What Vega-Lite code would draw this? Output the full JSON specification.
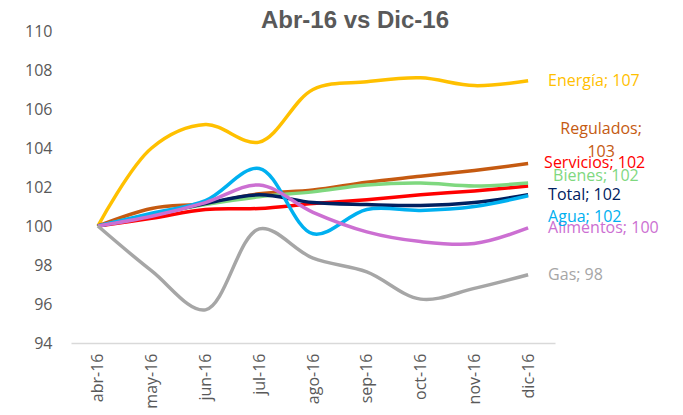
{
  "$schema": "https://vega.github.io/schema/vega-lite/v6.json",
  "width": 484,
  "height": 312,
  "autosize": {"type": "none"},
  "padding": {"left": 71, "top": 31, "right": 128, "bottom": 72},
  "background": "white",
  "config": {"view": {"stroke": null}, "font": "Open Sans"},
  "title": {"text": "Abr-16 vs Dic-16", "anchor": "middle", "frame": "group", "dx": 42, "dy": 12, "fontSize": 24, "fontWeight": "bold", "color": "#595959", "font": "Liberation Sans", "offset": 2},
  "data": {"values": [
    {"month": "abr-16", "series": "Energía", "value": 100},
    {"month": "may-16", "series": "Energía", "value": 104.0},
    {"month": "jun-16", "series": "Energía", "value": 105.2},
    {"month": "jul-16", "series": "Energía", "value": 104.3},
    {"month": "ago-16", "series": "Energía", "value": 107.0},
    {"month": "sep-16", "series": "Energía", "value": 107.4},
    {"month": "oct-16", "series": "Energía", "value": 107.6},
    {"month": "nov-16", "series": "Energía", "value": 107.2},
    {"month": "dic-16", "series": "Energía", "value": 107.45},
    {"month": "abr-16", "series": "Regulados", "value": 100},
    {"month": "may-16", "series": "Regulados", "value": 100.9},
    {"month": "jun-16", "series": "Regulados", "value": 101.15},
    {"month": "jul-16", "series": "Regulados", "value": 101.65},
    {"month": "ago-16", "series": "Regulados", "value": 101.85},
    {"month": "sep-16", "series": "Regulados", "value": 102.25},
    {"month": "oct-16", "series": "Regulados", "value": 102.55},
    {"month": "nov-16", "series": "Regulados", "value": 102.85},
    {"month": "dic-16", "series": "Regulados", "value": 103.2},
    {"month": "abr-16", "series": "Servicios", "value": 100},
    {"month": "may-16", "series": "Servicios", "value": 100.4},
    {"month": "jun-16", "series": "Servicios", "value": 100.85},
    {"month": "jul-16", "series": "Servicios", "value": 100.9},
    {"month": "ago-16", "series": "Servicios", "value": 101.15},
    {"month": "sep-16", "series": "Servicios", "value": 101.35},
    {"month": "oct-16", "series": "Servicios", "value": 101.6},
    {"month": "nov-16", "series": "Servicios", "value": 101.8},
    {"month": "dic-16", "series": "Servicios", "value": 102.05},
    {"month": "abr-16", "series": "Bienes", "value": 100},
    {"month": "may-16", "series": "Bienes", "value": 100.6},
    {"month": "jun-16", "series": "Bienes", "value": 101.1},
    {"month": "jul-16", "series": "Bienes", "value": 101.5},
    {"month": "ago-16", "series": "Bienes", "value": 101.75},
    {"month": "sep-16", "series": "Bienes", "value": 102.1},
    {"month": "oct-16", "series": "Bienes", "value": 102.2},
    {"month": "nov-16", "series": "Bienes", "value": 102.05},
    {"month": "dic-16", "series": "Bienes", "value": 102.2},
    {"month": "abr-16", "series": "Total", "value": 100},
    {"month": "may-16", "series": "Total", "value": 100.55},
    {"month": "jun-16", "series": "Total", "value": 101.15},
    {"month": "jul-16", "series": "Total", "value": 101.6},
    {"month": "ago-16", "series": "Total", "value": 101.2},
    {"month": "sep-16", "series": "Total", "value": 101.1},
    {"month": "oct-16", "series": "Total", "value": 101.05},
    {"month": "nov-16", "series": "Total", "value": 101.2},
    {"month": "dic-16", "series": "Total", "value": 101.6},
    {"month": "abr-16", "series": "Agua", "value": 100},
    {"month": "may-16", "series": "Agua", "value": 100.65},
    {"month": "jun-16", "series": "Agua", "value": 101.3},
    {"month": "jul-16", "series": "Agua", "value": 102.95},
    {"month": "ago-16", "series": "Agua", "value": 99.6},
    {"month": "sep-16", "series": "Agua", "value": 100.85},
    {"month": "oct-16", "series": "Agua", "value": 100.8},
    {"month": "nov-16", "series": "Agua", "value": 101.0},
    {"month": "dic-16", "series": "Agua", "value": 101.55},
    {"month": "abr-16", "series": "Alimentos", "value": 100},
    {"month": "may-16", "series": "Alimentos", "value": 100.5},
    {"month": "jun-16", "series": "Alimentos", "value": 101.2},
    {"month": "jul-16", "series": "Alimentos", "value": 102.1},
    {"month": "ago-16", "series": "Alimentos", "value": 100.7},
    {"month": "sep-16", "series": "Alimentos", "value": 99.7},
    {"month": "oct-16", "series": "Alimentos", "value": 99.2},
    {"month": "nov-16", "series": "Alimentos", "value": 99.1},
    {"month": "dic-16", "series": "Alimentos", "value": 99.9},
    {"month": "abr-16", "series": "Gas", "value": 100},
    {"month": "may-16", "series": "Gas", "value": 97.7},
    {"month": "jun-16", "series": "Gas", "value": 95.7},
    {"month": "jul-16", "series": "Gas", "value": 99.85},
    {"month": "ago-16", "series": "Gas", "value": 98.35},
    {"month": "sep-16", "series": "Gas", "value": 97.65},
    {"month": "oct-16", "series": "Gas", "value": 96.25},
    {"month": "nov-16", "series": "Gas", "value": 96.8},
    {"month": "dic-16", "series": "Gas", "value": 97.5}
  ]},
  "encoding": {
    "x": {"field": "month", "type": "ordinal", "sort": ["abr-16","may-16","jun-16","jul-16","ago-16","sep-16","oct-16","nov-16","dic-16"],
      "scale": {"type": "point", "padding": 0.5},
      "axis": {"title": null, "labelAngle": -90, "labelFontSize": 16, "labelColor": "#595959", "labelPadding": 10, "ticks": false, "grid": false, "domainColor": "#D9D9D9", "domainWidth": 1.5}},
    "y": {"field": "value", "type": "quantitative",
      "scale": {"domain": [94, 110], "nice": false, "zero": false},
      "axis": {"title": null, "values": [94,96,98,100,102,104,106,108,110], "labelFontSize": 16, "labelColor": "#595959", "labelPadding": 19, "ticks": false, "grid": false, "domain": false}},
    "color": {"field": "series", "type": "nominal", "legend": null,
      "scale": {"domain": ["Energía","Regulados","Servicios","Bienes","Total","Agua","Alimentos","Gas"],
        "range": ["#FFC000","#C55A11","#FF0000","#7FD87F","#002060","#00B0F0","#CC6FD2","#A6A6A6"]}}
  },
  "layer": [
    {"mark": {"type": "line", "strokeWidth": 3.5, "interpolate": "catmull-rom"}},
    {"transform": [{"filter": "datum.month === 'dic-16' && indexof(['Energía','Total','Alimentos','Gas'], datum.series) >= 0"},
      {"calculate": "datum.series + '; ' + format(datum.value, '.0f')", "as": "label"}],
     "mark": {"type": "text", "align": "left", "baseline": "middle", "dx": 20, "fontSize": 16},
     "encoding": {"text": {"field": "label"}}},
    {"transform": [{"filter": "datum.month === 'dic-16' && datum.series === 'Agua'"},
      {"calculate": "datum.series + '; ' + format(datum.value, '.0f')", "as": "label"}],
     "mark": {"type": "text", "align": "left", "baseline": "middle", "dx": 20, "dy": 21, "fontSize": 16},
     "encoding": {"text": {"field": "label"}}},
    {"transform": [{"filter": "datum.month === 'dic-16' && datum.series === 'Servicios'"},
      {"calculate": "datum.series + '; ' + format(datum.value, '.0f')", "as": "label"}],
     "mark": {"type": "text", "align": "left", "baseline": "middle", "dx": 16, "dy": -23, "fontSize": 16},
     "encoding": {"text": {"field": "label"}}},
    {"transform": [{"filter": "datum.month === 'dic-16' && datum.series === 'Bienes'"},
      {"calculate": "datum.series + '; ' + format(datum.value, '.0f')", "as": "label"}],
     "mark": {"type": "text", "align": "left", "baseline": "middle", "dx": 25, "dy": -7, "fontSize": 16},
     "encoding": {"text": {"field": "label"}}},
    {"transform": [{"filter": "datum.month === 'dic-16' && datum.series === 'Regulados'"},
      {"calculate": "datum.series + ';\\n' + format(datum.value, '.0f')", "as": "label"}],
     "mark": {"type": "text", "align": "center", "baseline": "middle", "dx": 73, "dy": -35, "fontSize": 16, "lineBreak": "\n", "lineHeight": 23},
     "encoding": {"text": {"field": "label"}}}
  ]
}
